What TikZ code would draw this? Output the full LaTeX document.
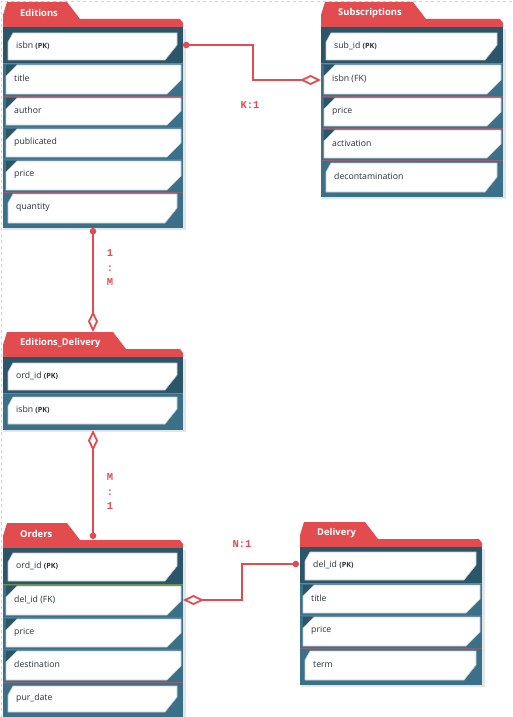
\documentclass[tikz,border=0pt]{standalone}
\usepackage{fontspec}
\setmainfont{Open Sans}
\newfontfamily\labelfont{Liberation Mono}
\usetikzlibrary{arrows.meta}

\definecolor{ertred}{HTML}{E24C4F}
\definecolor{tealdark}{HTML}{2B5569}
\definecolor{teallight}{HTML}{3B7089}
\definecolor{fieldtext}{HTML}{28323B}
\definecolor{cardedge}{HTML}{C4C8CC}
\definecolor{shadowc}{HTML}{E1E6E9}
\definecolor{seprow}{HTML}{8E6274}
\definecolor{sephead}{HTML}{6C9150}

\tikzset{
  tabtitle/.style={anchor=west, inner sep=0pt, text=white,
    font=\fontsize{9.4}{11}\selectfont\bfseries},
  field/.style={anchor=west, inner sep=0pt, text=fieldtext,
    font=\fontsize{8.7}{10}\selectfont},
  card/.style={fill=white, draw=cardedge, line width=0.6pt},
  sepline/.style={draw=seprow, line width=0.5pt},
  headline/.style={draw=sephead, line width=0.6pt},
  rel/.style={draw=ertred, line width=1.8pt},
  card-label/.style={inner sep=0pt, text=ertred,
    font=\labelfont\bfseries\fontsize{10.5}{14.5}\selectfont},
  frame/.style={draw=black!18, dashed, line width=0.6pt}
}

% table: #1 name, #2 left, #3 right, #4 tab top, #5 tab right,
%        #6 end of key section, #7 bottom, #8 title
\newcommand\ertable[8]{%
  \fill[shadowc] (#2+1,#4+27) rectangle (#3+3,#7+2);
  \fill[ertred] (#2,#4+25) -- (#2,#4+13) -- (#2+4,#4) -- (#5,#4)
     -- (#5+13,#4+17) -- (#3-3,#4+17) -- (#3,#4+21) -- (#3,#4+25) -- cycle;
  \node[tabtitle] (#1-title) at (#2+17,#4+11) {#8};
  \fill[teallight] (#2,#4+25) rectangle (#3,#7);
  \fill[tealdark] (#2,#4+25) rectangle (#3,#6);
  \draw[headline] (#2,#6) -- (#3,#6);
}

% full-width field row: #1 name, #2 left, #3 right, #4 row top, #5 row bottom, #6 text
\newcommand\widecard[6]{%
  \fill[tealdark] (#2+3,#4+2) -- (#2+14,#4+2) -- (#2+3,#4+13) -- cycle;
  \filldraw[card] (#2+14,#4+2) -- (#3-2,#4+2) -- (#3-2,#5-16) -- (#3-16,#5-2)
     -- (#2+3,#5-2) -- (#2+3,#4+13) -- cycle;
  \draw[sepline] (#2,#5) -- (#3,#5);
  \node[field] (#1) at (#2+11,{(#4+#5)/2-1}) {#6};
}

% inset field row: #1 name, #2 left, #3 right, #4 card top, #5 card bottom, #6 text
\newcommand\insetcard[6]{%
  \filldraw[card] (#2+10,#4) -- (#3-6,#4) -- (#3-6,#5-15) -- (#3-18,#5)
     -- (#2+5,#5) -- (#2+5,#4+9) -- cycle;
  \node[field] (#1) at (#2+13,{(#4+#5)/2-1}) {#6};
}

\newcommand\keytag[1]{{\bfseries\fontsize{7.2}{9}\selectfont(#1)}}

\begin{document}
\begin{tikzpicture}[x=1pt,y=-1pt]
\useasboundingbox (0,0) rectangle (513,717);
\draw[frame] (1,717) -- (1,1) -- (513,1);

% Editions
\ertable{ed}{3}{183}{2}{67}{63}{228}{Editions}
\insetcard{ed-isbn}{3}{183}{33}{60}{isbn \keytag{PK}}
\widecard{ed-title}{3}{183}{63}{96}{title}
\widecard{ed-author}{3}{183}{96}{127}{author}
\widecard{ed-pub}{3}{183}{127}{159}{publicated}
\widecard{ed-price}{3}{183}{159}{192}{price}
\insetcard{ed-qty}{3}{183}{194}{223}{quantity}

% Subscriptions
\ertable{sub}{321}{503}{2}{413}{63}{197}{Subscriptions}
\insetcard{sub-id}{321}{503}{33}{60}{sub\_id \keytag{PK}}
\widecard{sub-isbn}{321}{503}{63}{96}{isbn (FK)}
\widecard{sub-price}{321}{503}{96}{128}{price}
\widecard{sub-act}{321}{503}{128}{160}{activation}
\insetcard{sub-dec}{321}{503}{163}{192}{decontamination}

% Editions_Delivery
\ertable{edd}{3}{183}{332}{113}{393}{430}{Editions\_Delivery}
\insetcard{edd-ord}{3}{183}{363}{390}{ord\_id \keytag{PK}}
\insetcard{edd-isbn}{3}{183}{397}{424}{isbn \keytag{PK}}

% Orders
\ertable{ord}{3}{183}{523}{67}{584}{717}{Orders}
\insetcard{ord-id}{3}{183}{553}{581}{ord\_id \keytag{PK}}
\widecard{ord-del}{3}{183}{584}{617}{del\_id (FK)}
\widecard{ord-price}{3}{183}{617}{649}{price}
\widecard{ord-dest}{3}{183}{649}{682}{destination}
\insetcard{ord-date}{3}{183}{686}{712}{pur\_date}

% Delivery
\ertable{del}{300}{482}{522}{365}{583}{685}{Delivery}
\insetcard{del-id}{300}{482}{552}{580}{del\_id \keytag{PK}}
\widecard{del-title}{300}{482}{583}{615}{title}
\widecard{del-price}{300}{482}{615}{648}{price}
\insetcard{del-term}{300}{482}{651}{680}{term}

% relationship end points
\coordinate (ed-key-out) at (183,45);
\coordinate (sub-fk-in) at (321,80);
\coordinate (bend-k1) at (253,62);
\coordinate (ed-bottom) at (93,228);
\coordinate (edd-top) at (93,332);
\coordinate (edd-bottom) at (93,430);
\coordinate (ord-top) at (93,539);
\coordinate (ord-fk-out) at (183,600);
\coordinate (del-key-in) at (299,564);
\coordinate (bend-n1) at (242,582);

% relationships
\draw[rel, {Circle[length=6.5]}-{Diamond[open,length=21,width=10]}]
  (ed-key-out) -| (bend-k1) |- (sub-fk-in);
\draw[rel, {Circle[length=6.5]}-{Diamond[open,length=21,width=10]}]
  (ed-bottom) -- (edd-top);
\draw[rel, {Diamond[open,length=21,width=10]}-{Circle[length=6.5]}]
  (edd-bottom) -- (ord-top);
\draw[rel, {Diamond[open,length=21,width=10]}-{Circle[length=6.5]}]
  (ord-fk-out) -| (bend-n1) |- (del-key-in);

% cardinalities
\node[card-label] (lbl-k1) at (250,105) {K:1};
\node[card-label, align=center] (lbl-1m) at (110,268) {1\\:\\M};
\node[card-label, align=center] (lbl-m1) at (110,492) {M\\:\\1};
\node[card-label] (lbl-n1) at (242,544) {N:1};
\end{tikzpicture}
\end{document}
